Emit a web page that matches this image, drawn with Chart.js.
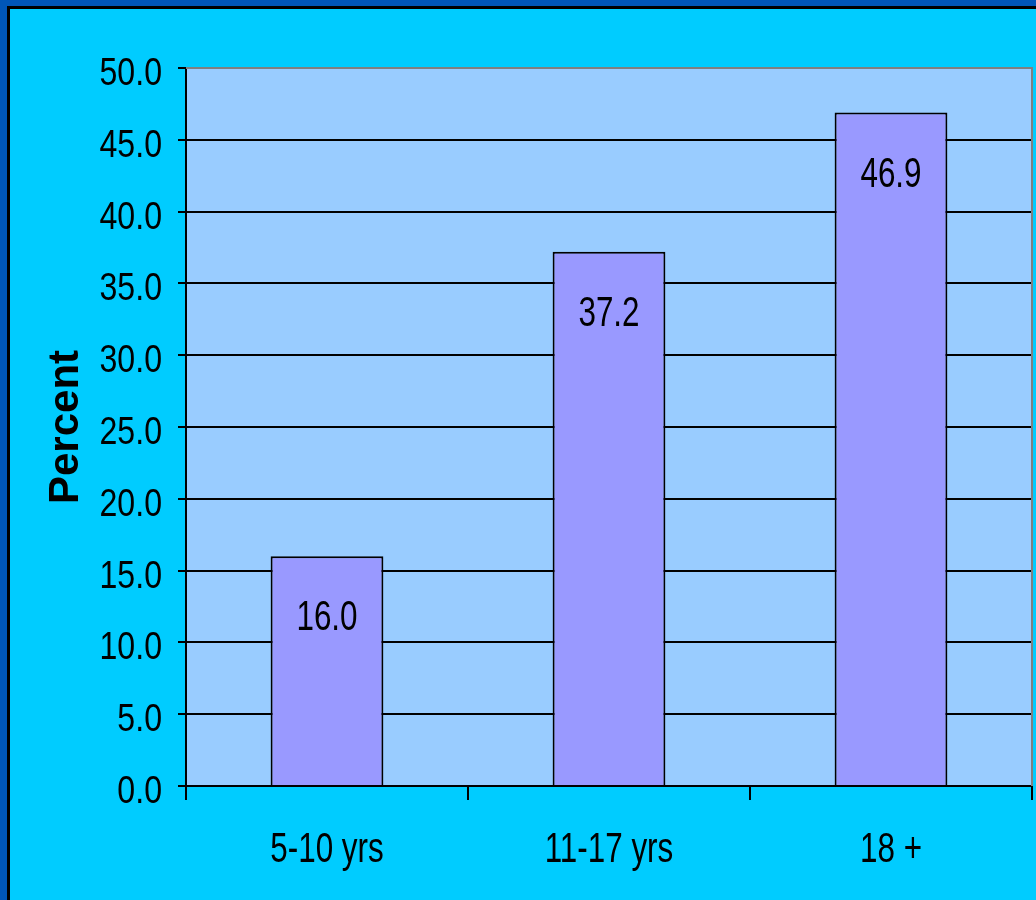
<!DOCTYPE html>
<html>
<head>
<meta charset="utf-8">
<script src="https://cdn.jsdelivr.net/npm/chart.js@4.4.0/dist/chart.umd.min.js"></script>
<style>
  html, body { margin: 0; padding: 0; }
  body { width: 1036px; height: 900px; background: #0056b8; overflow: hidden; position: relative; }
  #frame { position: absolute; left: 7px; top: 6px; width: 1029px; height: 894px;
           border-left: 3px solid #000; border-top: 3px solid #000; background: #00ccff; box-sizing: border-box; }
  #wrap { width: 1026px; height: 891px; }
</style>
</head>
<body>
<div id="frame"><div id="wrap"><canvas id="myChart"></canvas></div></div>
<script>
// data
var ageGroups = ['5-10 yrs', '11-17 yrs', '18 +'];
var percentValues = [16.0, 37.2, 46.9];
var yTicks = [0, 5, 10, 15, 20, 25, 30, 35, 40, 45, 50];

var FONT = '"Liberation Sans", Arial, sans-serif';

// draw text squeezed horizontally (narrow look of the original)
function narrowText(ctx, text, x, y, size, squeeze, align) {
    ctx.save();
    ctx.font = size + 'px ' + FONT;
    ctx.fillStyle = '#000';
    ctx.textAlign = align;
    ctx.textBaseline = 'alphabetic';
    ctx.translate(x, y);
    ctx.scale(squeeze, 1);
    ctx.fillText(text, 0, 0);
    ctx.restore();
}

// light blue plot background + grey top/right border
var plotBg = {
    id: 'plotBg',
    beforeDraw: function (chart) {
        var a = chart.chartArea, ctx = chart.ctx;
        ctx.save();
        ctx.fillStyle = '#99ccff';
        ctx.fillRect(a.left, a.top, a.right - a.left, a.bottom - a.top);
        ctx.restore();
    },
    afterDraw: function (chart) {
        var a = chart.chartArea, ctx = chart.ctx;
        ctx.save();
        ctx.strokeStyle = '#808080';
        ctx.lineWidth = 2;
        ctx.beginPath();
        ctx.moveTo(a.left, a.top);
        ctx.lineTo(a.right, a.top);
        ctx.lineTo(a.right, a.bottom);
        ctx.stroke();
        ctx.restore();
    }
};

// tick labels and value labels
var textLabels = {
    id: 'textLabels',
    afterDraw: function (chart) {
        var ctx = chart.ctx;
        var ys = chart.scales.y, xs = chart.scales.x;
        yTicks.forEach(function (v) {
            narrowText(ctx, v.toFixed(1), ys.right - 24, ys.getPixelForValue(v) + 17, 38, 0.845, 'right');
        });
        ageGroups.forEach(function (lab, i) {
            narrowText(ctx, lab, xs.getPixelForValue(i), xs.top + 76, 43, 0.73, 'center');
        });
        chart.getDatasetMeta(0).data.forEach(function (bar, i) {
            narrowText(ctx, percentValues[i].toFixed(1), bar.x, bar.y + 74, 43, 0.73, 'center');
        });
    }
};

new Chart(document.getElementById('myChart'), {
    type: 'bar',
    data: {
        labels: ageGroups,
        datasets: [{
            data: percentValues,
            backgroundColor: '#9999ff',
            borderColor: '#000',
            borderWidth: 2,
            borderSkipped: 'bottom',
            categoryPercentage: 1.0,
            barPercentage: 0.4
        }]
    },
    options: {
        responsive: true,
        maintainAspectRatio: false,
        animation: false,
        layout: { padding: { top: 59, right: 4, left: 0, bottom: 0 } },
        plugins: { legend: { display: false }, tooltip: { enabled: false } },
        scales: {
            x: {
                grid: { display: true, drawOnChartArea: false, color: '#000', lineWidth: 2, tickLength: 14, offset: true },
                border: { color: '#000', width: 2 },
                ticks: { color: 'rgba(0,0,0,0)', font: { family: FONT, size: 38 }, padding: 26, maxRotation: 0 },
                afterFit: function (s) { s.height = 114; }
            },
            y: {
                min: 0,
                max: 50,
                afterBuildTicks: function (s) { s.ticks = yTicks.map(function (v) { return { value: v }; }); },
                grid: {
                    color: function (c) { return c.tick && c.tick.value === 50 ? '#808080' : '#000'; },
                    lineWidth: 2,
                    tickLength: 8,
                    tickColor: '#000'
                },
                border: { color: '#000', width: 2 },
                ticks: {
                    color: 'rgba(0,0,0,0)',
                    font: { family: FONT, size: 30 },
                    padding: 16,
                    callback: function (v) { return Number(v).toFixed(1); }
                },
                title: {
                    display: true,
                    text: 'Percent',
                    color: '#000',
                    font: { family: FONT, size: 42, weight: 'bold' },
                    padding: { top: 31, bottom: 0 }
                },
                afterFit: function (s) { s.width = 176; }
            }
        }
    },
    plugins: [plotBg, textLabels]
});
</script>
</body>
</html>
